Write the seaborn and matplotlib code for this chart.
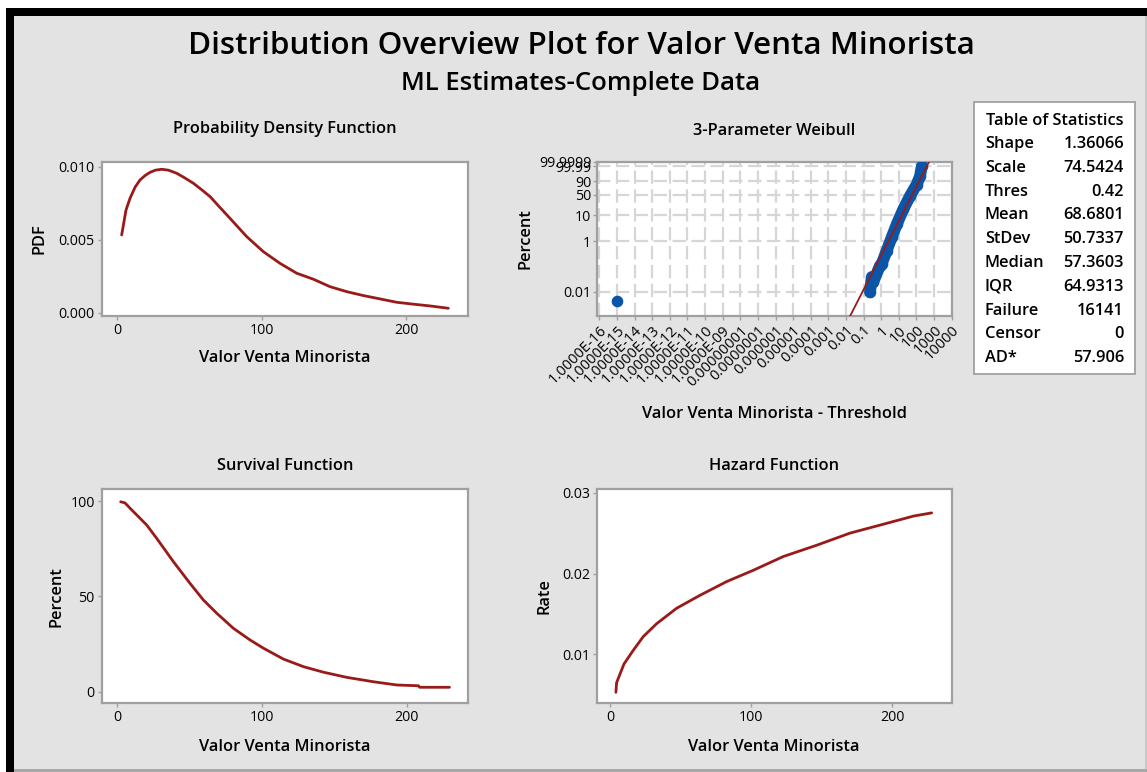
import numpy as np
import pandas as pd
import seaborn as sns
import matplotlib.pyplot as plt
from matplotlib.patches import Rectangle

# values
pdf_x = [3.2, 6.2, 9.0, 12.5, 15.9, 19.5, 22.8, 26.5, 30.9, 35.5, 41.2, 46.5, 52.8, 58.5,
         64.3, 71.0, 78.1, 89.6, 101.1, 112.6, 124.2, 135.7, 147.2, 158.7, 170.3, 181.8,
         193.3, 204.8, 216.3, 229.0]
pdf_y = [0.00532, 0.00703, 0.00784, 0.00860, 0.00909, 0.00940, 0.00961, 0.00976, 0.00982,
         0.00976, 0.00955, 0.00925, 0.00886, 0.00842, 0.00795, 0.00722, 0.00646, 0.00521,
         0.00418, 0.00338, 0.00270, 0.00229, 0.00178, 0.00144, 0.00117, 0.00094, 0.00071,
         0.00058, 0.00046, 0.00030]

surv_x = [2.5, 5.5, 9.0, 20.5, 27.4, 38.9, 50.4, 59.6, 68.9, 80.4, 91.9, 101.1, 114.9,
          128.8, 142.6, 158.7, 177.1, 193.3, 208.2, 209.0, 229.6]
surv_y = [99.6, 99.0, 96.2, 87.4, 80.4, 68.2, 56.8, 48.1, 41.1, 33.2, 27.1, 22.8, 17.1,
          13.1, 10.2, 7.5, 5.2, 3.5, 3.1, 2.3, 2.3]

haz_x = [4.2, 4.7, 9.9, 16.5, 23.6, 33.1, 47.2, 63.7, 82.6, 101.5, 122.7, 146.4, 170.0,
         193.6, 214.8, 227.8]
haz_y = [0.0053, 0.0065, 0.0088, 0.0105, 0.0122, 0.0138, 0.0157, 0.0173, 0.0190, 0.0204,
         0.0221, 0.0235, 0.0250, 0.0261, 0.0271, 0.0275]

# probability plot (x = value - threshold, y = percent)
prob_x = [0.23, 0.29, 0.355, 0.85, 1.07, 2.04, 3.9, 7.6, 17.8, 42.7, 102, 158, 199]
prob_y = [0.0097, 0.039, 0.025, 0.11, 0.13, 0.43, 1.41, 4.6, 16.7, 45.6, 82.3, 97.4, 99.988]
outlier_x = [1e-15]
outlier_y = [0.0043]
fit_x = [0.0171, 520]
fit_y = [0.00112, 99.99991]

prob_xticks = [10.0 ** k for k in range(-16, 5)]
prob_xlabels = ["1.0000E-16", "1.0000E-15", "1.0000E-14", "1.0000E-13", "1.0000E-12",
                "1.0000E-11", "1.0000E-10", "1.0000E-09", "0.00000001", "0.0000001",
                "0.000001", "0.00001", "0.0001", "0.001", "0.01", "0.1", "1", "10",
                "100", "1000", "10000"]
prob_yticks = [0.01, 1, 10, 50, 90, 99.99, 99.9999]
prob_ylabels = ["0.01", "1", "10", "50", "90", "99.99", "99.9999"]

stat_names = ["Shape", "Scale", "Thres", "Mean", "StDev", "Median", "IQR", "Failure", "Censor", "AD*"]
stat_values = ["1.36066", "74.5424", "0.42", "68.6801", "50.7337", "57.3603", "64.9313",
               "16141", "0", "57.906"]

sns.set_theme(style="white")
plt.rcParams['font.family'] = ['Open Sans', 'DejaVu Sans']
plt.rcParams['text.color'] = 'black'
plt.rcParams['axes.labelcolor'] = 'black'
plt.rcParams['axes.edgecolor'] = '#a0a0a0'
plt.rcParams['axes.linewidth'] = 1.6

RED = '#9a1a1a'
BLUE = '#0a55a8'
BG = '#e3e3e3'
W, H = 1147, 772
LAB = dict(fontsize=11.8, fontweight='semibold')

fig = plt.figure(figsize=(W / 100, H / 100), dpi=100, facecolor=BG)


def box(left, top, right, bottom):
    return [left / W, 1 - bottom / H, (right - left) / W, (bottom - top) / H]


def style(ax):
    ax.set_facecolor('white')
    ax.tick_params(axis='both', which='major', direction='out', length=3, width=1,
                   color='#a0a0a0', labelsize=10.2, pad=2, labelcolor='black',
                   bottom=True, left=True)
    ax.tick_params(which='minor', bottom=False, left=False)
    for s in ax.spines.values():
        s.set_color('#a0a0a0')


# --- PDF
ax1 = fig.add_axes(box(101.7, 161.7, 468, 316))
sns.lineplot(x=pdf_x, y=pdf_y, ax=ax1, color=RED, lw=2)
ax1.set_xlim(-10.6, 242.6)
ax1.set_ylim(-0.00023, 0.01034)
ax1.set_xticks([0, 100, 200])
ax1.set_yticks([0.0, 0.005, 0.010], ["0.000", "0.005", "0.010"])
ax1.set_title("Probability Density Function", pad=21, **LAB)
ax1.set_xlabel("Valor Venta Minorista", labelpad=9, **LAB)
ax1.set_ylabel("PDF", labelpad=8, **LAB)
style(ax1)

# --- Survival
ax3 = fig.add_axes(box(101.7, 489, 468.3, 703.3))
sns.lineplot(x=surv_x, y=surv_y, ax=ax3, color=RED, lw=2)
ax3.set_xlim(-10.6, 242.6)
ax3.set_ylim(-6.1, 106.3)
ax3.set_xticks([0, 100, 200])
ax3.set_yticks([0, 50, 100])
ax3.set_title("Survival Function", pad=14, **LAB)
ax3.set_xlabel("Valor Venta Minorista", labelpad=10, **LAB)
ax3.set_ylabel("Percent", labelpad=4, **LAB)
style(ax3)

# --- Hazard
ax4 = fig.add_axes(box(596.7, 489.3, 951.7, 703.3))
sns.lineplot(x=haz_x, y=haz_y, ax=ax4, color=RED, lw=2)
ax4.set_xlim(-9.4, 242)
ax4.set_ylim(0.00394, 0.03042)
ax4.set_xticks([0, 100, 200])
ax4.set_yticks([0.01, 0.02, 0.03])
ax4.set_title("Hazard Function", pad=14, **LAB)
ax4.set_xlabel("Valor Venta Minorista", labelpad=10, **LAB)
ax4.set_ylabel("Rate", labelpad=7, **LAB)
style(ax4)

# --- 3-Parameter Weibull probability plot
def fwd(p):
    q = np.clip(np.asarray(p, dtype=float) / 100.0, 1e-300, 1 - 1e-15)
    return np.log(-np.log1p(-q))


def inv(w):
    return 100.0 * (-np.expm1(-np.exp(np.asarray(w, dtype=float))))


ax2 = fig.add_axes(box(596.7, 161.7, 951.7, 316))
ax2.set_xscale('log')
ax2.set_yscale('function', functions=(fwd, inv))
ax2.grid(True, color='#d6d6d6', lw=1.6, linestyle=(0, (6, 2.5)))
ax2.set_axisbelow(True)
ax2.plot(prob_x, prob_y, color=BLUE, lw=8.5, solid_capstyle='round', zorder=3)
sns.scatterplot(x=prob_x + outlier_x, y=prob_y + outlier_y, ax=ax2, color=BLUE,
                s=70, edgecolor=BLUE, linewidth=0, zorder=4)
sns.lineplot(x=fit_x, y=fit_y, ax=ax2, color=RED, lw=1.3, zorder=5)
ax2.set_xlim(10 ** -16.15, 10 ** 4.0)
ax2.set_ylim(0.00112, 99.99991)
ax2.set_xticks(prob_xticks, prob_xlabels)
ax2.set_yticks(prob_yticks, prob_ylabels)
ax2.minorticks_off()
style(ax2)
ax2.tick_params(axis='x', labelsize=10.5)
ax2.tick_params(axis='y', labelsize=10.2, pad=1)
for lab in ax2.get_xticklabels():
    lab.set_rotation(45)
    lab.set_ha('right')
    lab.set_rotation_mode('anchor')
ax2.set_title("3-Parameter Weibull", pad=19, **LAB)
ax2.set_xlabel("Valor Venta Minorista - Threshold", labelpad=12, **LAB)
ax2.set_ylabel("Percent", labelpad=4, **LAB)

# --- titles
fig.text(581 / W, 1 - 46 / H, "Distribution Overview Plot for Valor Venta Minorista",
         ha='center', va='center', fontsize=22.6, fontweight='semibold')
fig.text(581 / W, 1 - 84 / H, "ML Estimates-Complete Data",
         ha='center', va='center', fontsize=18.5, fontweight='semibold')

# --- table of statistics
fig.add_artist(Rectangle((974.3 / W, 1 - 374.3 / H), (1135 - 974.3) / W, (374.3 - 102.3) / H,
                         transform=fig.transFigure, facecolor='white', edgecolor='#a0a0a0', lw=1.3))
fig.text(1054.5 / W, 1 - 121 / H, "Table of Statistics", ha='center', va='center', **LAB)
for i, (nm, val) in enumerate(zip(stat_names, stat_values)):
    yy = 1 - (144 + i * 23.8) / H
    fig.text(985 / W, yy, nm, ha='left', va='center', **LAB)
    fig.text(1124 / W, yy, val, ha='right', va='center', **LAB)

# --- frame around the picture
frame = [((0, 1 - 8 / H), 1, 8 / H, 'white'),
         ((0, 0), 6 / W, 1, 'white'),
         ((6 / W, 1 - 16 / H), 1, 8 / H, 'black'),
         ((6 / W, 0), 8 / W, 1 - 8 / H, 'black'),
         ((1145 / W, 0), 2 / W, 1 - 16 / H, '#c8c8c8'),
         ((14 / W, 0), 1, 3 / H, '#a8a8a8')]
for (xy, w, h, c) in frame:
    fig.add_artist(Rectangle(xy, w, h, transform=fig.transFigure, facecolor=c,
                             edgecolor='none', zorder=10))

fig.savefig("out.png", dpi=100, facecolor=BG)
